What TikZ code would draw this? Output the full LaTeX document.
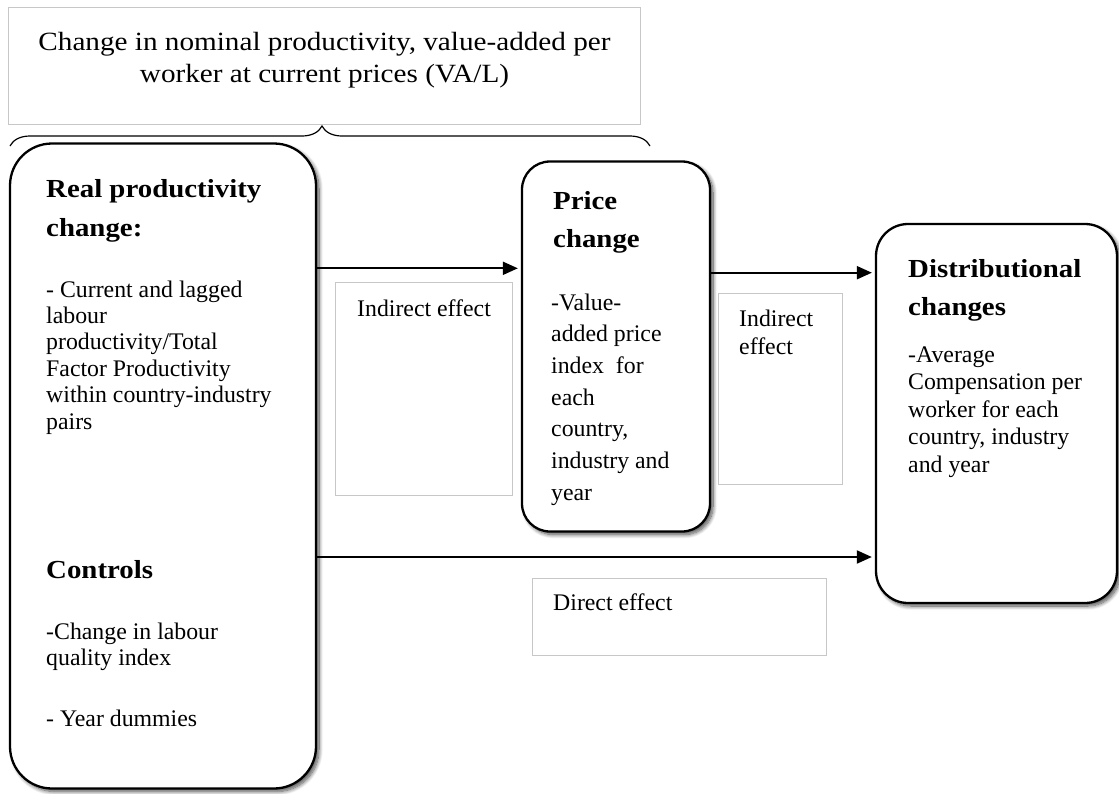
\documentclass[tikz,border=0pt]{standalone}
\usepackage{fontspec}
\setmainfont{Liberation Serif}
\newfontfamily\widefont{Liberation Serif}[FakeStretch=1.11]
\usetikzlibrary{shadows.blur, arrows.meta, decorations.pathreplacing}

\tikzset{
  rbox/.style={draw, line width=2.3pt, rounded corners=#1, fill=white, inner sep=0pt,
    blur shadow={shadow xshift=3pt, shadow yshift=-3pt, shadow blur radius=4pt,
                 shadow blur steps=10, shadow opacity=70}},
  lbox/.style={draw=black!22, line width=0.8pt, fill=white, inner sep=0pt},
  arr/.style={line width=2pt, -{Triangle[length=15pt,width=13pt]}, shorten >=3pt},
  txt/.style={anchor=base west, inner sep=0pt},
  head/.style={txt, font=\widefont\bfseries\fontsize{26}{38.5}\selectfont},
  body/.style={txt, font=\fontsize{23.8}{26.4}\selectfont},
  bodywide/.style={txt, font=\fontsize{23.8}{31.7}\selectfont},
  bodymid/.style={txt, font=\fontsize{23.8}{27.5}\selectfont},
}
\newcommand\tb[1]{\parbox[t]{400pt}{\raggedright #1}}

\begin{document}
\begin{tikzpicture}[x=1pt, y=-1pt]
\useasboundingbox (0,0) rectangle (1119,793);

% top label box and text
\node[lbox, minimum width=632pt, minimum height=117pt] (top) at (324,65.5) {};
\node[anchor=base, inner sep=0pt, font=\widefont\fontsize{26.3}{32}\selectfont] (toptext) at (324.5,50)
  {\parbox[t]{620pt}{\centering Change in nominal productivity, value-added per\\worker at current prices (VA/L)}};

% brace
\coordinate (bl) at (10,146);
\coordinate (br) at (650,146);
\draw[line width=1.2pt, decorate, decoration={brace, amplitude=20pt, aspect=0.4875}] (bl) -- (br);

% effect label boxes
\node[lbox, minimum width=177pt, minimum height=213pt] (ind1) at (423.5,388.5) {};
\node[body] (ind1t) at (357,316) {Indirect effect};
\node[lbox, minimum width=124pt, minimum height=191pt] (ind2) at (780,388.5) {};
\node[txt, font=\fontsize{23.8}{28}\selectfont] (ind2t) at (739,326.5) {\tb{Indirect\\effect}};
\node[lbox, minimum width=294pt, minimum height=77pt] (dir) at (679,616.5) {};
\node[body] (dirt) at (553,610) {Direct effect};

% main rounded boxes
\node[rbox=42pt, minimum width=306pt, minimum height=645pt] (rp) at (163,466) {};
\node[rbox=28pt, minimum width=188pt, minimum height=370pt] (pc) at (616,346.5) {};
\node[rbox=32pt, minimum width=241pt, minimum height=379pt] (dc) at (996.5,413.5) {};

% left box text
\node[head] (rph) at (46,197.5) {\tb{Real productivity\\change:}};
\node[body] (rpb) at (46,297) {\tb{- Current and lagged\\labour\\productivity/Total\\Factor Productivity\\within country-industry\\pairs}};
\node[head] (cth) at (46,578.5) {Controls};
\node[body] (ctb) at (46,639.5) {\tb{-Change in labour\\quality index}};
\node[body] (cty) at (46,726.5) {- Year dummies};

% price box text
\node[head] (pch) at (553,209) {\tb{Price\\change}};
\node[bodywide] (pcb) at (551,310) {\tb{-Value-\\added price\\index\ \ for\\each\\country,\\industry and\\year}};

% distributional box text
\node[head] (dch) at (908,277) {\tb{Distributional\\changes}};
\node[bodymid] (dcb) at (908,362) {\tb{-Average\\Compensation per\\worker for each\\country, industry\\and year}};

% arrows
\draw[arr] (rp.east |- 0,268.3) -- (pc.west |- 0,268.3);
\draw[arr] (pc.east |- 0,272.7) -- (dc.west |- 0,272.7);
\draw[arr] (rp.east |- 0,557) -- (dc.west |- 0,557);
\end{tikzpicture}
\end{document}
